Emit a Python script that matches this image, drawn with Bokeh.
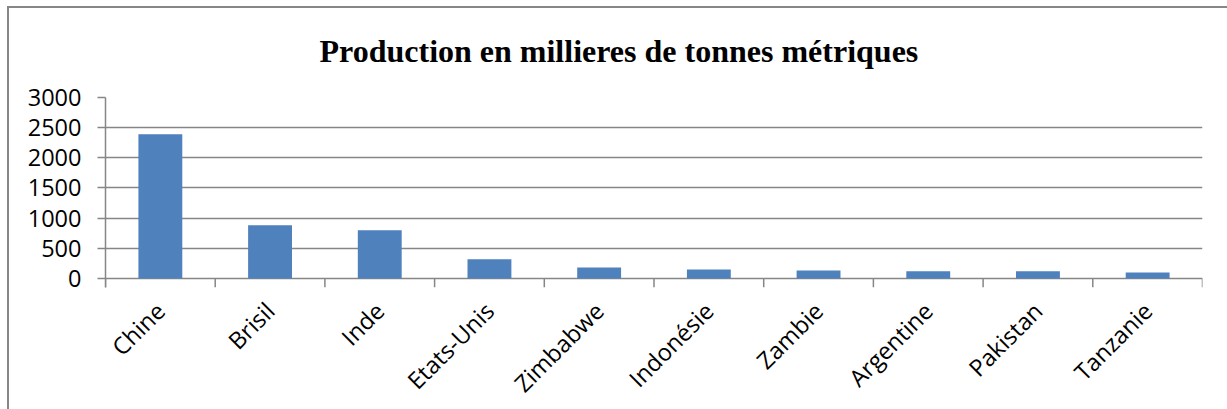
import math
from bokeh.plotting import figure
from bokeh.models import FactorRange, Range1d, FixedTicker, ColumnDataSource, Title
from bokeh.embed import file_html
from bokeh.resources import INLINE

categories = ["Chine", "Brisil", "Inde", "Etats-Unis", "Zimbabwe",
              "Indonésie", "Zambie", "Argentine", "Pakistan", "Tanzanie"]
production = [2390, 880, 800, 320, 180, 150, 130, 120, 120, 100]
y_ticks = [0, 500, 1000, 1500, 2000, 2500, 3000]
title_text = "Production en millieres de tonnes métriques"

GRAY = "#868686"
BLUE = "#4F81BD"
Y_MIN = -150

p = figure(x_range=FactorRange(*categories, range_padding=0),
           y_range=Range1d(Y_MIN, y_ticks[-1]),
           frame_width=1097, frame_height=190,
           min_border_left=96, min_border_right=25,
           min_border_top=89, min_border_bottom=110,
           output_backend="svg", toolbar_location=None,
           title=title_text)

p.margin = (6, 0, 0, 7)
p.styles = {"border-left": "2px solid #868686", "border-top": "2px solid #868686",
            "border-right": "0px none", "border-bottom": "0px none",
            "outline": "none", "box-shadow": "none"}

p.title.text_font = "Liberation Serif"
p.title.text_font_style = "bold"
p.title.text_font_size = "32px"
p.title.text_color = "black"
p.title.align = "left"
p.title.offset = 214
p.title.vertical_align = "bottom"
p.title.standoff = 2

# blank spacer panel between the frame and the title, to lift the title
p.add_layout(Title(text=" ", text_font_size="10px", standoff=15), "above")

src = ColumnDataSource(dict(cat=categories, val=production))
p.vbar(x="cat", top="val", bottom=0, width=0.4, source=src,
       fill_color=BLUE, line_color=None)

# category boundary tick marks (below the zero line)
bounds = list(range(len(categories) + 1))
p.segment(x0=bounds, y0=[Y_MIN] * len(bounds), x1=bounds, y1=[0] * len(bounds),
          line_color=GRAY, line_width=1.5)

p.outline_line_color = None
p.background_fill_color = "white"
p.border_fill_color = "white"

p.xgrid.visible = False
p.ygrid.ticker = FixedTicker(ticks=y_ticks)
p.ygrid.grid_line_color = GRAY
p.ygrid.grid_line_width = 1.5

ya = p.yaxis[0]
ya.ticker = FixedTicker(ticks=y_ticks)
ya.bounds = (Y_MIN, y_ticks[-1])
ya.axis_line_color = GRAY
ya.axis_line_width = 1.5
ya.major_tick_line_color = GRAY
ya.major_tick_line_width = 1.5
ya.major_tick_out = 8
ya.major_tick_in = 0
ya.minor_tick_line_color = None
ya.major_label_standoff = 16
ya.major_label_text_font = "Open Sans"
ya.major_label_text_font_size = "23.5px"
ya.major_label_text_color = "black"

xa = p.xaxis[0]
xa.axis_line_color = None
xa.major_tick_line_color = None
xa.minor_tick_line_color = None
xa.major_label_orientation = math.pi / 4
xa.major_label_standoff = 13
xa.major_label_text_font = "Open Sans"
xa.major_label_text_font_size = "23.5px"
xa.major_label_text_color = "black"

open("out.html", "w").write(file_html(p, INLINE))
